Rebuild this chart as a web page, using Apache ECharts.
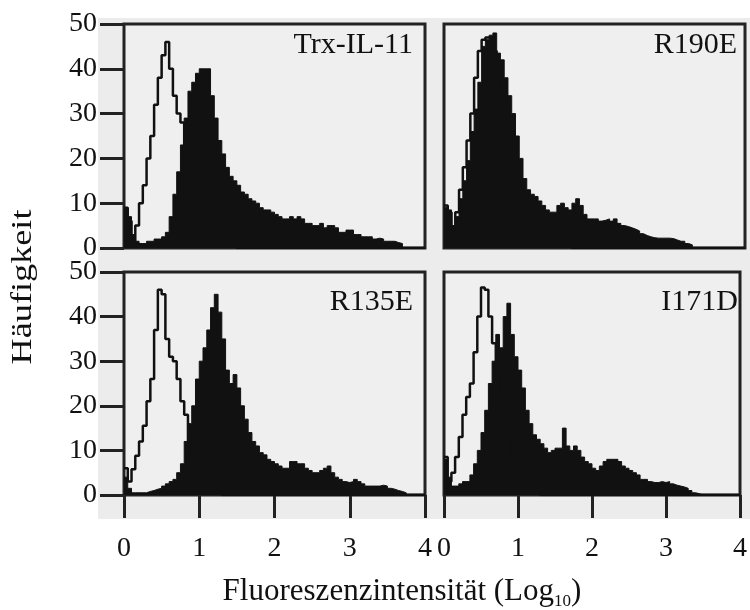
<!DOCTYPE html>
<html><head><meta charset="utf-8">
<script src="https://cdn.jsdelivr.net/npm/echarts@6/dist/echarts.min.js"></script>
<style>html,body{margin:0;padding:0;background:#fff}#c{width:750px;height:610px}</style>
</head><body><div id="c"></div>
<script>
// Bin edges (log10 fluorescence), 0.05 wide
const binEdges = [0,0.05,0.1,0.15,0.2,0.25,0.3,0.35,0.4,0.45,0.5,0.55,0.6,0.65,0.7,0.75,0.8,0.85,0.9,0.95,
  1,1.05,1.1,1.15,1.2,1.25,1.3,1.35,1.4,1.45,1.5,1.55,1.6,1.65,1.7,1.75,1.8,1.85,1.9,1.95,
  2,2.05,2.1,2.15,2.2,2.25,2.3,2.35,2.4,2.45,2.5,2.55,2.6,2.65,2.7,2.75,2.8,2.85,2.9,2.95,
  3,3.05,3.1,3.15,3.2,3.25,3.3,3.35,3.4,3.45,3.5,3.55,3.6,3.65,3.7,3.75,3.8,3.85,3.9,3.95,4];

const xTicks = [0, 1, 2, 3, 4];
const yTicks = [0, 10, 20, 30, 40, 50];
const panelNames = ['Trx-IL-11', 'R190E', 'R135E', 'I171D'];

// Trx-IL-11 (top left)
const trxFilled = [9,7,3,1.5,1,1,1.5,1.5,2,2, 2.5,3.5,7,12,17,23,29,35,37,39,
  40,40,40,34,29,24,21,18,16,15, 14,12.5,12,11,10.5,10,9,8.5,8.5,8,
  7.5,7,6.5,6.5,7,6.5,7,6.5,5.5,5.5, 5,5,5.5,4.5,5,5,4.5,3.5,3.5,4,
  4,3,3,2.5,2.5,2.5,2,2.2,2,1.5, 1.5,1.5,1.2,1,0,0,0,0,0,0];
const trxControl = [9,6,1,5,10,14,20,25,32,38, 43,46,40,34,30,28,22,16,12,9,
  7,5,4,3,2,1.5,1,1,0.5,0.5, 0,0,0,0,0,0,0,0,0,0,
  0,0,0,0,0,0,0,0,0,0, 0,0,0,0,0,0,0,0,0,0,
  0,0,0,0,0,0,0,0,0,0, 0,0,0,0,0,0,0,0,0,0];

// R190E (top right)
const r190Filled = [9,8.5,5,7,11,15,19.5,26,31,37, 45,46.5,47.5,48,43.5,42,38,34,30,25,
  20,15.5,13,12,11.5,10.5,9.5,8.5,8,8, 9.5,10,9,8.5,10,11,9.5,7.5,6.5,6.5,
  6.5,6,6.2,6.5,6,6.5,5.5,5,4.8,4.5, 4.2,3.8,3.2,2.8,2.5,2.3,2.2,2.2,2.2,2.2,
  2.1,1.8,1.5,1.5,1,0.7,0,0,0,0, 0,0,0,0,0,0,0,0,0,0];
const r190Control = [9.5,8,4,8,13,18,24,30,38,44, 46.5,47,47,44,40,36,32,27,22,17,
  13,10,8,6,5,4,3,2.5,2,1.5, 1,1,0.5,0.5,0,0,0,0,0,0,
  0,0,0,0,0,0,0,0,0,0, 0,0,0,0,0,0,0,0,0,0,
  0,0,0,0,0,0,0,0,0,0, 0,0,0,0,0,0,0,0,0,0];

// R135E (bottom left)
const r135Filled = [4,1.5,0.5,0.5,0.5,0.5,0.8,1,1.3,1.5, 2,2.5,3,3.5,5,7,12,16,20,26,
  30,33,37,42,45,41,35,28,25,27, 24,20,17,14,12,11,9.5,9,8,7.5,
  7,6.5,6,6,7.5,7.5,7,7,6,5.5, 5,5,5.5,6,6.5,5,4,3.5,3,2.8,
  3,3.5,3,2.5,2,2,2,2,2.2,2, 1.5,1.3,1,0.8,0.5,0,0,0,0,0];
const r135Control = [6,3,5.8,8.8,12,15.5,21,26,37,46, 45,35,31,30,26,21,18,12,9,6,
  4,3,2,1.5,1,0.5,0,0,0,0, 0,0,0,0,0,0,0,0,0,0,
  0,0,0,0,0,0,0,0,0,0, 0,0,0,0,0,0,0,0,0,0,
  0,0,0,0,0,0,0,0,0,0, 0,0,0,0,0,0,0,0,0,0];

// I171D (bottom right)
const i171Filled = [8,4,2,2,2.5,3,3,4.5,7,10, 14,19,25,30,36,33,40,43,36,31,
  28,24,19,16,13.5,12.5,11.5,10.5,9.5,10, 10.5,10.5,15,11,10,11,10,8.5,7.5,7,
  6,5.5,6.5,7.5,8,8,8,7.5,6.5,6, 5.5,5,4.5,3.5,3.5,3,2.8,2.8,3,2.8,
  3,2.5,2.2,2,1.8,1.5,1,0.5,0.3,0, 0,0,0,0,0,0,0,0,0,0];
const i171Control = [8.5,3,5,8.5,13,18,22,25,32,40, 46.5,46,40,34,28,22,16,12,9,6,
  4,3,2,1.5,1,0.5,0,0,0,0, 0,0,0,0,0,0,0,0,0,0,
  0,0,0,0,0,0,0,0,0,0, 0,0,0,0,0,0,0,0,0,0,
  0,0,0,0,0,0,0,0,0,0, 0,0,0,0,0,0,0,0,0,0];

const filledSets = [trxFilled, r190Filled, r135Filled, i171Filled];
const controlSets = [trxControl, r190Control, r135Control, i171Control];

const FONT = 'Liberation Serif';
const INK = '#111111';

function stepData(vals) {
  const d = vals.map((v, i) => [binEdges[i], v]);
  d.push([binEdges[vals.length], vals[vals.length - 1]]);
  return d;
}

const gridPos = [
  {left: 124, top: 24, width: 301, height: 224},
  {left: 444, top: 24, width: 301, height: 224},
  {left: 124, top: 272, width: 301, height: 223},
  {left: 444, top: 272, width: 301, height: 223}
];

const grids = gridPos.map(g => Object.assign({
  show: true, backgroundColor: '#efefef', borderColor: '#222222', borderWidth: 3, containLabel: false
}, g));

const xAxes = gridPos.map((g, i) => {
  const bottom = i >= 2;
  return {
    gridIndex: i, type: 'value', min: xTicks[0], max: xTicks[xTicks.length - 1], interval: 1,
    axisLine: {show: false}, splitLine: {show: false},
    axisTick: {show: bottom, length: 23, lineStyle: {width: 3, color: '#222222'}},
    axisLabel: {show: bottom, margin: 40, fontSize: 28, fontFamily: FONT, color: INK,
      showMinLabel: true, showMaxLabel: true}
  };
});

const yAxes = gridPos.map((g, i) => {
  const left = i % 2 === 0;
  return {
    gridIndex: i, type: 'value', min: yTicks[0], max: yTicks[yTicks.length - 1], interval: 10,
    axisLine: {show: false}, splitLine: {show: false},
    axisTick: {show: left, length: 24, lineStyle: {width: 3, color: '#222222'}},
    axisLabel: {show: left, margin: 27, fontSize: 28, fontFamily: FONT, color: INK,
      showMinLabel: true, showMaxLabel: true}
  };
});

const series = [];
for (let i = 0; i < 4; i++) {
  series.push({
    type: 'line', xAxisIndex: i, yAxisIndex: i, step: 'end', symbol: 'none',
    data: stepData(filledSets[i]),
    lineStyle: {color: INK, width: 1},
    areaStyle: {color: INK, opacity: 1}, z: 2
  });
  series.push({
    type: 'line', xAxisIndex: i, yAxisIndex: i, step: 'end', symbol: 'none',
    data: stepData(controlSets[i]),
    lineStyle: {color: INK, width: 2.5}, z: 3
  });
}

const labelPos = [[413, 45], [737, 45], [413, 302], [738, 302]];
const graphics = [
  {type: 'rect', z: -100, shape: {x: 98, y: 18, width: 652, height: 501}, style: {fill: '#ececec'}}
];
panelNames.forEach((name, i) => {
  graphics.push({type: 'text', x: labelPos[i][0], y: labelPos[i][1], z: 10,
    style: {text: name, fontSize: 30, fontFamily: FONT, fill: INK, align: 'right', verticalAlign: 'middle'}});
});
graphics.push({type: 'text', x: 23, y: 287, rotation: Math.PI / 2, scaleX: 1.25, z: 10,
  style: {text: 'Häufigkeit', fontSize: 29, fontFamily: FONT, fill: INK, align: 'center', verticalAlign: 'middle'}});
graphics.push({type: 'text', x: 402, y: 592, z: 10,
  style: {
    text: '{a|Fluoreszenzintensität (Log}{b|10}{a|)}',
    align: 'center', verticalAlign: 'middle', fill: INK,
    rich: {
      a: {fontSize: 31, fontFamily: FONT, color: INK, lineHeight: 36},
      b: {fontSize: 17, fontFamily: FONT, color: INK, verticalAlign: 'bottom', lineHeight: 36}
    }
  }});

const chart = echarts.init(document.getElementById('c'), null, {renderer: 'canvas'});
chart.setOption({
  animation: false,
  backgroundColor: '#ffffff',
  grid: grids, xAxis: xAxes, yAxis: yAxes, series: series, graphic: graphics
});
</script></body></html>
